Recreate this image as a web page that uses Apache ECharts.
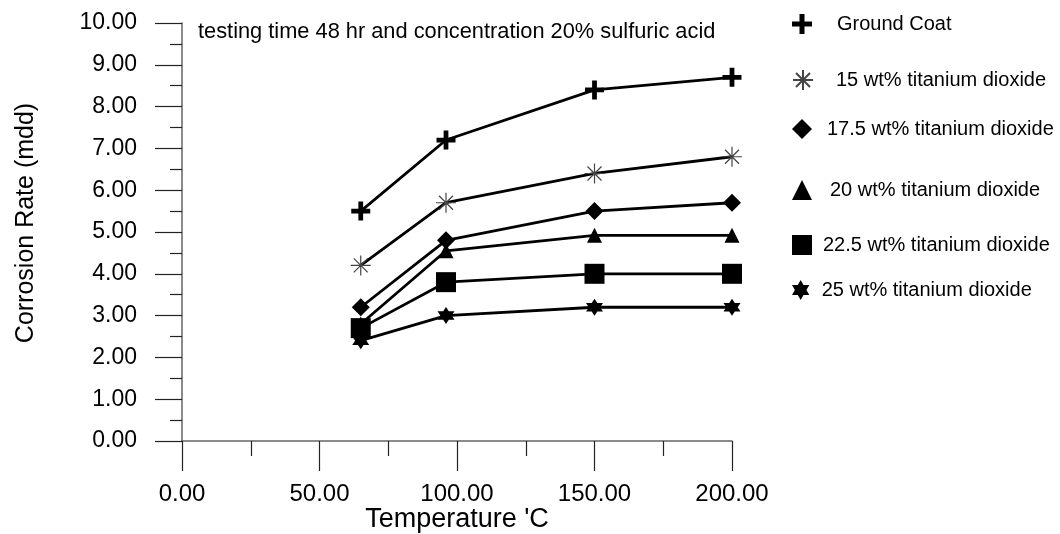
<!DOCTYPE html>
<html style="height: 100%">
<head>
    <meta charset="utf-8">
    <script type="text/javascript" src="https://cdn.jsdelivr.net/npm/echarts@6/dist/echarts.min.js"></script>
</head>
<body style="height: 100%; margin: 0; background: #fff">
<div id="container" style="height: 534px; width: 1060px"></div>
<script type="text/javascript">
    // temperatures ('C) and corrosion rates (mdd)
    var temperatures = [65, 96, 150, 200];
    var seriesNames = [
        'Ground Coat',
        '15 wt% titanium dioxide',
        '17.5 wt% titanium dioxide',
        '20 wt% titanium dioxide',
        '22.5 wt% titanium dioxide',
        '25 wt% titanium dioxide'
    ];
    var groundCoat = [5.5, 7.2, 8.4, 8.7];
    var tio2_15 = [4.2, 5.7, 6.4, 6.8];
    var tio2_175 = [3.2, 4.8, 5.5, 5.7];
    var tio2_20 = [2.8, 4.55, 4.92, 4.92];
    var tio2_225 = [2.7, 3.8, 4.0, 4.0];
    var tio2_25 = [2.4, 3.0, 3.2, 3.2];
    var allValues = [groundCoat, tio2_15, tio2_175, tio2_20, tio2_225, tio2_25];

    var plus = 'path://M3,0H5V3H8V5H5V8H3V5H0V3H3Z';
    var asterisk = 'path://M0,5H10M5,0V10M1.5,1.5L8.5,8.5M8.5,1.5L1.5,8.5';
    var star6 = 'path://M5,0L6.44,2.5L9.33,2.5L7.89,5L9.33,7.5L6.44,7.5L5,10L3.56,7.5L0.67,7.5L2.11,5L0.67,2.5L3.56,2.5Z';
    var symbols = [plus, asterisk, 'diamond', 'triangle', 'rect', star6];
    var symbolSizes = [19, 20, 18, 15, 20, 17];

    // legend item placement (the entries are not evenly spaced in the figure)
    var legendTops = [14, 69, 119, 180, 235, 280];
    var legendTextPad = [20, 18, 10, 13, 6, 6];

    var dom = document.getElementById('container');
    var myChart = echarts.init(dom);
    var font = 'Liberation Sans';

    var series = seriesNames.map(function (name, i) {
        var isStar = i === 1;
        return {
            name: name,
            type: 'line',
            data: temperatures.map(function (t, j) { return [t, allValues[i][j]]; }),
            symbol: symbols[i],
            symbolSize: symbolSizes[i],
            showAllSymbol: true,
            lineStyle: { color: '#000', width: 2.8 },
            itemStyle: isStar
                ? { color: 'rgba(0,0,0,0)', borderColor: '#444', borderWidth: 1.2 }
                : { color: '#000', borderWidth: 0 },
            z: 10 - i,
            animation: false
        };
    });

    var legends = seriesNames.map(function (name, i) {
        return {
            data: [name],
            left: 792,
            top: legendTops[i],
            padding: 0,
            orient: 'vertical',
            itemWidth: 20,
            itemHeight: 20,
            itemGap: 0,
            icon: symbols[i],
            textStyle: { fontFamily: font, fontSize: 20, lineHeight: 20, color: '#000', padding: [0, 0, 0, legendTextPad[i]] },
            selectedMode: false
        };
    });

    var option = {
        backgroundColor: '#fff',
        animation: false,
        title: {
            text: 'testing time 48 hr and concentration 20% sulfuric acid',
            left: 198,
            top: 21,
            padding: 0,
            textStyle: { fontFamily: font, fontSize: 21.8, fontWeight: 'normal', color: '#000' }
        },
        legend: legends,
        grid: { left: 182, right: 328, top: 23, bottom: 93, outerBoundsMode: 'none', containLabel: false },
        xAxis: {
            type: 'value',
            min: 0,
            max: 200,
            interval: 50,
            name: "Temperature 'C",
            nameLocation: 'middle',
            nameGap: 65,
            nameMoveOverlap: false,
            nameTextStyle: { fontFamily: font, fontSize: 27, color: '#000' },
            axisLine: { lineStyle: { color: '#666', width: 1.5 } },
            axisTick: { length: 30, lineStyle: { color: '#222', width: 1.2 } },
            minorTick: { show: true, splitNumber: 2, length: 15, lineStyle: { color: '#222', width: 1.2 } },
            axisLabel: {
                margin: 41,
                fontFamily: font,
                fontSize: 24,
                color: '#000',
                formatter: function (v) { return v.toFixed(2); }
            },
            splitLine: { show: false }
        },
        yAxis: {
            type: 'value',
            min: 0,
            max: 10,
            interval: 1,
            name: 'Corrosion Rate (mdd)',
            nameLocation: 'middle',
            nameGap: 143,
            nameMoveOverlap: false,
            nameTextStyle: { fontFamily: font, fontSize: 25, color: '#000', padding: [0, 0, 0, 18] },
            axisLine: { lineStyle: { color: '#666', width: 1.5 } },
            axisTick: { length: 27, lineStyle: { color: '#222', width: 1.2 } },
            minorTick: { show: true, splitNumber: 2, length: 12, lineStyle: { color: '#222', width: 1.2 } },
            axisLabel: {
                margin: 45,
                fontFamily: font,
                fontSize: 23,
                color: '#000',
                formatter: function (v) { return v.toFixed(2); }
            },
            splitLine: { show: false }
        },
        series: series
    };
    myChart.setOption(option);
</script>
</body>
</html>
